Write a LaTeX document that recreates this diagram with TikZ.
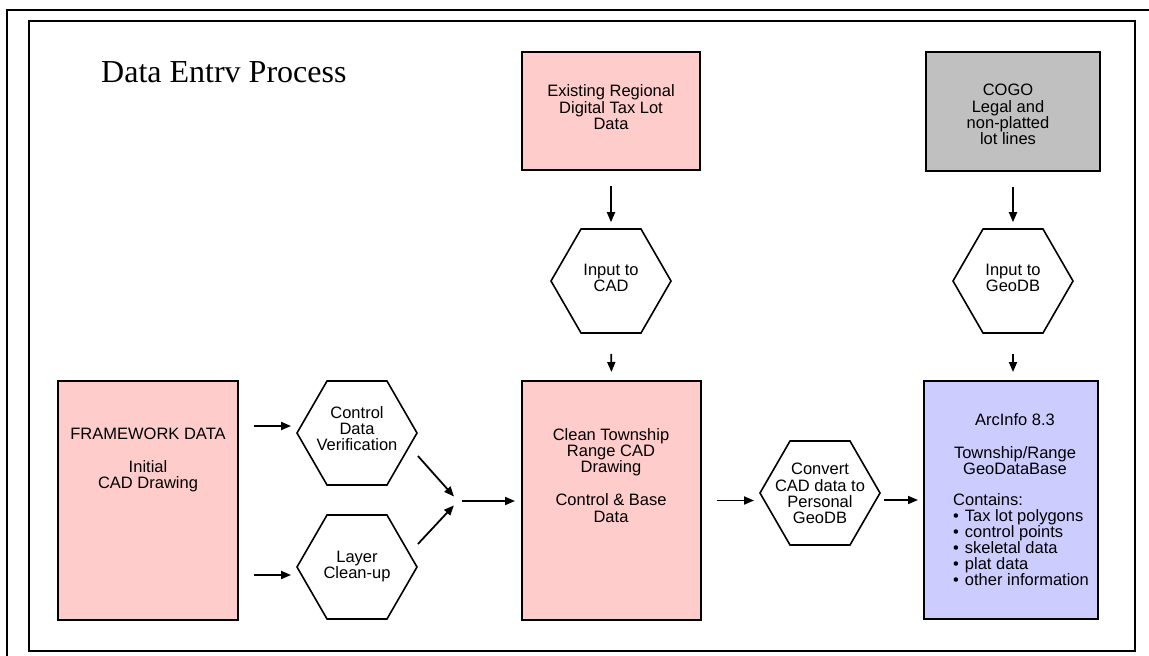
\documentclass[tikz,border=0pt]{standalone}
\usepackage{fontspec}
\setmainfont{Liberation Sans}
\newfontfamily\ttlfont{Liberation Serif}
\usetikzlibrary{shapes.geometric,arrows.meta,calc}
\definecolor{pinkfill}{HTML}{FFCCCC}
\definecolor{grayfill}{HTML}{C0C0C0}
\definecolor{bluefill}{HTML}{CCCCFF}
\begin{document}
\begin{tikzpicture}[x=1pt,y=-1pt,
  box/.style={draw,line width=2pt,rectangle,inner sep=0pt},
  hexa/.style={draw,line width=1.6pt,regular polygon,regular polygon sides=6,minimum size=120pt,inner sep=0pt},
  lbl/.style={inner sep=0pt,align=center,anchor=north,font=\fontsize{16.5}{16.4}\selectfont},
  arr/.style={line width=1.8pt,-{Triangle[length=10pt,width=8pt]}},
]
\useasboundingbox (0,0) rectangle (1149,656);
\draw[line width=1.5pt] (7,656) -- (7,10) -- (1149,10);
\draw[line width=2pt] (29,21) rectangle (1135,651);
\node[anchor=base west,inner sep=0pt,font=\ttlfont\fontsize{32}{38}\selectfont] (title) at (101,82) {Data Entrv Process};

% boxes
\node[box,fill=pinkfill,minimum width=178pt,minimum height=118pt] (ex) at (611,111) {};
\node[box,fill=grayfill,minimum width=174pt,minimum height=119pt] (cogo) at (1013,111.5) {};
\node[box,fill=pinkfill,minimum width=180pt,minimum height=239pt] (fw) at (148,500.5) {};
\node[box,fill=pinkfill,minimum width=179pt,minimum height=239pt] (clean) at (611.5,500.5) {};
\node[box,fill=bluefill,minimum width=174pt,minimum height=238pt] (arc) at (1011,500) {};

% hexagons
\node[hexa] (inCAD) at (611,281) {};
\node[hexa] (inGeo) at (1013,281) {};
\node[hexa] (ctl) at (357,433) {};
\node[hexa] (lay) at (357,567) {};
\node[hexa] (conv) at (820,493) {};

% labels
\node[lbl] (ext) at (611,84.5) {Existing Regional\\Digital Tax Lot\\Data};
\node[lbl] (cogot) at (1008,84) {COGO\\Legal and\\non-platted\\lot lines};
\node[lbl] (inCADt) at (611,264) {Input to\\CAD};
\node[lbl] (inGeot) at (1013,264) {Input to\\GeoDB};
\node[lbl] (fwt) at (148,427.5) {FRAMEWORK DATA\\[16.5pt]Initial\\CAD Drawing};
\node[lbl] (ctlt) at (357,406) {Control\\Data\\Verification};
\node[lbl] (layt) at (357,551) {Layer\\Clean-up};
\node[lbl] (cleant) at (611,428) {Clean Township\\Range CAD\\Drawing\\[16.5pt]Control \& Base\\Data};
\node[lbl] (convt) at (820,463) {Convert\\CAD data to\\Personal\\GeoDB};
\node[lbl] (arct) at (1015,413.5) {ArcInfo 8.3\\[16pt]Township/Range\\GeoDataBase};
\node[lbl,anchor=north west,align=left,font=\fontsize{16.5}{16}\selectfont] (contt) at (953,493.5)
  {Contains:\\•\hspace{6pt}Tax lot polygons\\•\hspace{6pt}control points\\•\hspace{6pt}skeletal data\\•\hspace{6pt}plat data\\•\hspace{6pt}other information};

% connectors
\coordinate (mg) at (458,501);
\draw[arr,shorten <=15pt,shorten >=6pt] (ex.south) -- (inCAD.north);
\draw[arr,shorten <=20pt,shorten >=8pt] (inCAD.south) -- (clean.north);
\draw[arr,shorten <=15pt,shorten >=6pt] (cogo.south) -- (inGeo.north);
\draw[arr,shorten <=20pt,shorten >=8pt] (inGeo.south) -- (arc.north -| inGeo.south);
\draw[arr] ($(fw.east|-ctl.west)+(15,-7)$) -- ($(ctl.west)+(-5,-7)$);
\draw[arr] ($(fw.east|-lay.west)+(15,8)$) -- ($(lay.west)+(-5,8)$);
\draw[arr,shorten >=6pt] ($(ctl.east)+(0,23)$) -- (mg);
\draw[arr,shorten >=6pt] ($(lay.east)+(0,-23)$) -- (mg);
\draw[arr,shorten <=4pt,shorten >=6pt] (mg) -- (clean.west |- mg);
\draw[arr,shorten <=15pt,shorten >=5pt] (clean.east) -- (clean.east -| conv.west);
\draw[arr,shorten <=3pt,shorten >=5pt] (conv.east |- arc.west) -- (arc.west);
\end{tikzpicture}
\end{document}
